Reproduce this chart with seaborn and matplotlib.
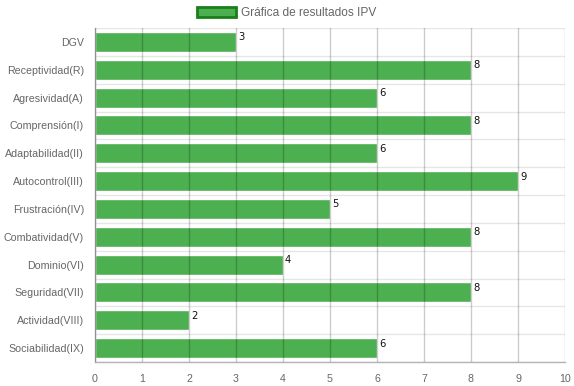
import matplotlib
matplotlib.use("Agg")
import matplotlib.pyplot as plt
import matplotlib.patches as mpatches
import numpy as np
import pandas as pd
import seaborn as sns

# data
categorias = ["DGV", "Receptividad(R)", "Agresividad(A)", "Comprensión(I)",
              "Adaptabilidad(II)", "Autocontrol(III)", "Frustración(IV)",
              "Combatividad(V)", "Dominio(VI)", "Seguridad(VII)",
              "Actividad(VIII)", "Sociabilidad(IX)"]
valores = [3, 8, 6, 8, 6, 9, 5, 8, 4, 8, 2, 6]
x_ticks = list(range(0, 11))
titulo_leyenda = "Gráfica de resultados IPV"

df = pd.DataFrame({"categoria": categorias, "valor": valores})

sns.set_style("white")
plt.rcParams["font.family"] = ["Liberation Sans", "DejaVu Sans"]

verde = "#4CAF50"
gris_grid = "#b4b4b4"
gris_claro = "#e6e6e6"

fig = plt.figure(figsize=(5.74, 3.86), dpi=100)
ax = fig.add_axes([95 / 574, 1 - 362 / 386, 470 / 574, 334 / 386])

sns.barplot(data=df, x="valor", y="categoria", orient="h", color=verde,
            saturation=1, width=0.72, ax=ax, zorder=2)

ax.set_xlim(0, 10)
ax.set_xticks(x_ticks)
ax.set_xlabel("")
ax.set_ylabel("")

# vertical grid over bars
for xv in x_ticks:
    ax.axvline(xv, color="#000000", alpha=0.2, lw=1, zorder=3)

# horizontal grid between categories
n = len(categorias)
ax.set_yticks(np.arange(-0.5, n, 1), minor=True)
ax.grid(which="minor", axis="y", color=gris_claro, lw=1, zorder=0)
ax.tick_params(axis="y", which="minor", length=5, color=gris_claro)
ax.tick_params(axis="y", which="major", length=0, labelsize=7.7,
               labelcolor="#666666", pad=8)
ax.tick_params(axis="x", which="major", length=6, color=gris_grid,
               labelsize=7.7, labelcolor="#666666", pad=3)
ax.set_ylim(n - 0.5, -0.5)

for s in ["top", "right"]:
    ax.spines[s].set_visible(False)
for s in ["left", "bottom"]:
    ax.spines[s].set_color(gris_grid)
    ax.spines[s].set_linewidth(1)

# value labels
for p, v in zip(ax.patches, valores):
    ax.text(p.get_width() + 0.04, p.get_y() + 0.02, str(v), ha="left", va="top",
            fontsize=7.2, color="#111111", family="DejaVu Sans", zorder=4)

handle = mpatches.Patch(facecolor=verde, edgecolor="#1a7f1a", lw=2,
                        label=titulo_leyenda)
fig.legend(handles=[handle], loc="upper center", bbox_to_anchor=(0.5, 1.0),
           frameon=False, fontsize=8.6, handlelength=3.2, handleheight=0.9,
           handletextpad=0.5, borderaxespad=0.2, labelcolor="#666666")

fig.savefig("out.png", dpi=100)
